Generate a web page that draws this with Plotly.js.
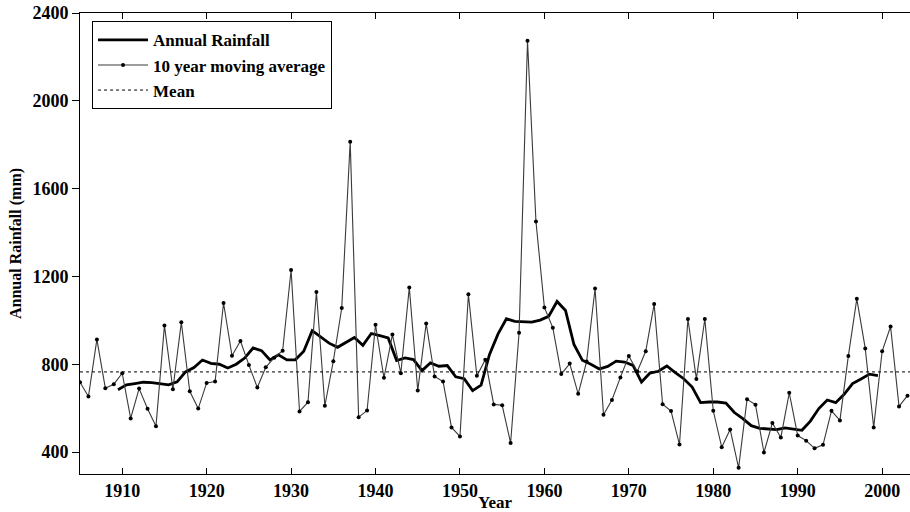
<!DOCTYPE html>
<html>
<head>
<meta charset="utf-8">
<script src="https://cdn.plot.ly/plotly-3.0.1.min.js"></script>
<style>
  html, body { margin: 0; padding: 0; background: #ffffff; }
  #chart { width: 910px; height: 512px; }
</style>
</head>
<body>
<div id="chart"></div>
<script>
// ---- data ----
const firstYear = 1905;
const lastYear = 2003;

// thin line with markers (legend: "10 year moving average")
const rainfall = [
  718, 653, 913, 691, 709, 759, 553, 689, 597, 518,      // 1905-1914
  976, 686, 991, 677, 598, 715, 721, 1079, 839, 906,     // 1915-1924
  797, 694, 786, 830, 862, 1229, 585, 627, 1129, 611,    // 1925-1934
  814, 1056, 1814, 559, 589, 980, 738, 935, 759, 1150,   // 1935-1944
  680, 986, 744, 721, 512, 471, 1119, 747, 820, 617,     // 1945-1954
  613, 441, 943, 2274, 1450, 1059, 966, 755, 803, 665,   // 1955-1964
  812, 1145, 570, 637, 740, 838, 767, 859, 1074, 618,    // 1965-1974
  587, 434, 1006, 733, 1006, 588, 422, 503, 328, 640,    // 1975-1984
  616, 398, 532, 466, 670, 475, 452, 417, 433, 588,      // 1985-1994
  544, 838, 1098, 872, 512, 859, 972, 608, 657           // 1995-2003
];

// thick smooth line (legend: "Annual Rainfall"), plotted at mid-years
const avgFirstYear = 1909.5;
const movingAvg = [
  684, 706, 712, 718, 716, 712, 706, 720, 765, 785, 819,  // 1909.5-1919.5
  804, 800, 783, 800, 828, 874, 862, 820, 843, 820,       // 1920.5-1929.5
  820, 859, 953, 926, 896, 877, 900, 922, 886, 940,       // 1930.5-1939.5
  930, 920, 817, 829, 821, 771, 806, 791, 794, 743,       // 1940.5-1949.5
  734, 680, 705, 845, 937, 1007, 995, 992, 992, 1001,     // 1950.5-1959.5
  1018, 1086, 1045, 890, 818, 800, 778, 790, 814, 810,    // 1960.5-1969.5
  795, 719, 760, 768, 792, 762, 734, 696, 625, 628,       // 1970.5-1979.5
  628, 623, 580, 552, 520, 508, 505, 502, 510, 506,       // 1980.5-1989.5
  499, 541, 598, 637, 625, 663, 712, 733, 755, 748        // 1990.5-1999.5
];

const meanRainfall = 765;

const yTickVals = [400, 800, 1200, 1600, 2000, 2400];
const xTickVals = [1910, 1920, 1930, 1940, 1950, 1960, 1970, 1980, 1990, 2000];

const seriesNames = ['Annual Rainfall', '10 year moving average', 'Mean'];

// ---- build x arrays ----
const years = [];
for (let y = firstYear; y <= lastYear; y++) years.push(y);
const avgYears = movingAvg.map((_, i) => avgFirstYear + i);

const serif = 'Liberation Serif';

const traces = [
  {
    x: avgYears, y: movingAvg, name: seriesNames[0],
    type: 'scatter', mode: 'lines',
    line: { color: '#000000', width: 2.8 }
  },
  {
    x: years, y: rainfall, name: seriesNames[1],
    type: 'scatter', mode: 'lines+markers',
    line: { color: '#3a3a3a', width: 1.1 },
    marker: { color: '#000000', size: 4, symbol: 'circle' }
  },
  {
    x: [years[0], years[years.length - 1] + 1], y: [meanRainfall, meanRainfall],
    name: seriesNames[2],
    type: 'scatter', mode: 'lines',
    line: { color: '#000000', width: 1, dash: 'dot' }
  }
];

const layout = {
  width: 910, height: 512,
  margin: { l: 80, r: 0, t: 13, b: 38 },
  paper_bgcolor: '#ffffff', plot_bgcolor: '#ffffff',
  showlegend: true,
  legend: {
    x: 0.0145, y: 0.982, xanchor: 'left', yanchor: 'top',
    bgcolor: '#ffffff', bordercolor: '#000000', borderwidth: 1,
    font: { family: serif, size: 17, color: '#000000', weight: 'bold' },
    itemwidth: 50, tracegroupgap: 0
  },
  xaxis: {
    range: [1905, 2003.3],
    tickvals: xTickVals,
    ticks: 'inside', ticklen: 6, tickwidth: 1, tickcolor: '#000000',
    showline: true, linecolor: '#000000', linewidth: 1, mirror: 'ticks',
    showgrid: false, zeroline: false,
    tickfont: { family: serif, size: 18, color: '#000000', weight: 'bold' },
    title: { text: 'Year', standoff: 0, font: { family: serif, size: 17, color: '#000000', weight: 'bold' } }
  },
  yaxis: {
    range: [300, 2400],
    tickvals: yTickVals,
    ticks: 'outside', ticklen: 7, tickwidth: 1, tickcolor: '#000000',
    showline: true, linecolor: '#000000', linewidth: 1, mirror: false,
    showgrid: false, zeroline: false,
    tickfont: { family: serif, size: 18, color: '#000000', weight: 'bold' },
    title: { text: 'Annual Rainfall (mm)', standoff: 6, font: { family: serif, size: 16, color: '#000000', weight: 'bold' } }
  }
};

Plotly.newPlot('chart', traces, layout, { displayModeBar: false, staticPlot: true });
</script>
</body>
</html>
